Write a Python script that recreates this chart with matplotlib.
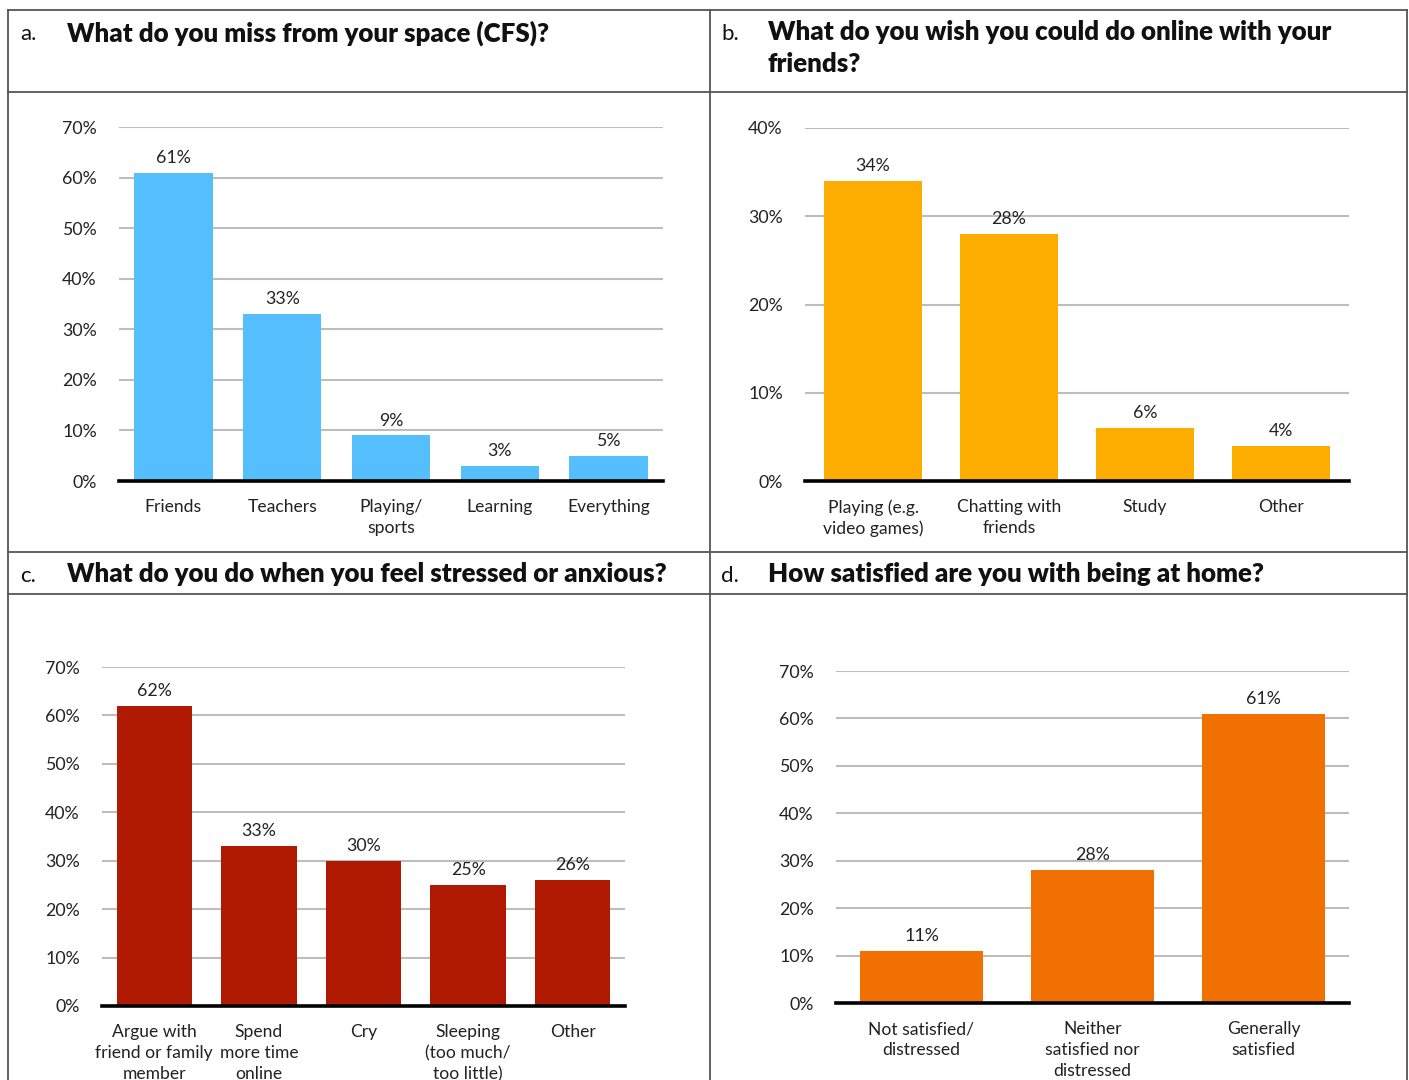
import matplotlib
matplotlib.use("Agg")
import matplotlib.pyplot as plt
from matplotlib.lines import Line2D

plt.rcParams['font.family'] = ['Lato', 'DejaVu Sans']

# ---- data ----
cats_a = ["Friends", "Teachers", "Playing/\nsports", "Learning", "Everything"]
vals_a = [61, 33, 9, 3, 5]
ticks_a = [0, 10, 20, 30, 40, 50, 60, 70]

cats_b = ["Playing (e.g.\nvideo games)", "Chatting with\nfriends", "Study", "Other"]
vals_b = [34, 28, 6, 4]
ticks_b = [0, 10, 20, 30, 40]

cats_c = ["Argue with\nfriend or family\nmember", "Spend\nmore time\nonline", "Cry",
          "Sleeping\n(too much/\ntoo little)", "Other"]
vals_c = [62, 33, 30, 25, 26]
ticks_c = [0, 10, 20, 30, 40, 50, 60, 70]

cats_d = ["Not satisfied/\ndistressed", "Neither\nsatisfied nor\ndistressed", "Generally\nsatisfied"]
vals_d = [11, 28, 61]
ticks_d = [0, 10, 20, 30, 40, 50, 60, 70]

titles = [("a.", "What do you miss from your space (CFS)?"),
          ("b.", "What do you wish you could do online with your\nfriends?"),
          ("c.", "What do you do when you feel stressed or anxious?"),
          ("d.", "How satisfied are you with being at home?")]

W, H = 1409, 1080
fig = plt.figure(figsize=(W / 100, H / 100), dpi=100)


def fx(x):
    return x / W


def fy(y):
    return 1 - y / H


# table borders
border_col = "#555555"
lw_b = 1.3
fig.add_artist(Line2D([fx(8), fx(1407)], [fy(10), fy(10)], color=border_col, lw=lw_b))
for yy in (92, 552, 594):
    fig.add_artist(Line2D([fx(8), fx(1407)], [fy(yy), fy(yy)], color=border_col, lw=lw_b))
for xx in (8, 710, 1407):
    fig.add_artist(Line2D([fx(xx), fx(xx)], [fy(10), fy(1080)], color=border_col, lw=lw_b))

# titles
title_pos = [(20, 67, 33), (721, 768, 33), (20, 67, 575), (721, 768, 575)]
for (lab, txt), (xl, xt, yc) in zip(titles, title_pos):
    fig.text(fx(xl), fy(yc + 1), lab, fontsize=16, ha="left", va="center", color="#111111")
    fig.text(fx(xt), fy(yc - 13), txt, fontsize=18.6, fontweight="heavy", ha="left",
             va="top", color="#111111", linespacing=1.4)

panels = [
    (cats_a, vals_a, ticks_a, "#55BFFD", (119, 663, 127, 481)),
    (cats_b, vals_b, ticks_b, "#FDAD00", (805, 1349, 128, 481)),
    (cats_c, vals_c, ticks_c, "#B01A02", (102, 625, 667, 1006)),
    (cats_d, vals_d, ticks_d, "#F07102", (836, 1349, 671, 1003)),
]

for cats, vals, ticks, color, (x0, x1, ytop, ybot) in panels:
    ax = fig.add_axes([fx(x0), fy(ybot), fx(x1) - fx(x0), fy(ytop) - fy(ybot)])
    n = len(cats)
    pos = list(range(n))
    ax.bar(pos, vals, width=0.72, color=color, zorder=3)
    ax.set_xlim(-0.5, n - 0.5)
    ax.set_ylim(ticks[0], ticks[-1])
    ax.set_yticks(ticks)
    ax.set_yticklabels([f"{t}%" for t in ticks])
    ax.grid(axis="y", color="#BDBDBD", lw=1.5, zorder=0)
    ax.axhline(0, color="black", lw=2.6, zorder=4, clip_on=False)
    for s in ax.spines.values():
        s.set_visible(False)
    ax.tick_params(axis="y", length=0, pad=16, labelsize=12.8, labelcolor="#222222")
    ax.set_xticks(pos)
    ax.set_xticklabels(cats, fontsize=12.6, linespacing=1.38, color="#222222")
    ax.tick_params(axis="x", length=0, pad=13)
    for p, v in zip(pos, vals):
        ax.annotate(f"{v}%", (p, v), xytext=(0, 5), textcoords="offset points",
                    ha="center", va="bottom", fontsize=12.8, color="#222222")

fig.savefig("out.png", dpi=100)
